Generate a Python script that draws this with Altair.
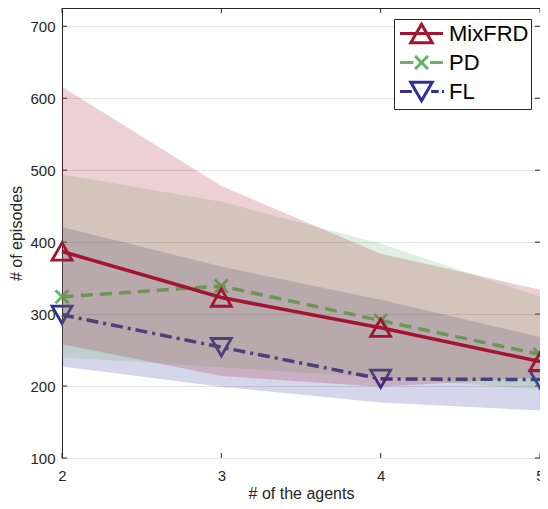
import altair as alt
import pandas as pd

# ---------------- data ----------------
agents = [2, 3, 4, 5]
methods = ["MixFRD", "PD", "FL"]

mix_mean = [387, 323, 281, 234]
mix_hi = [616, 478, 384, 334]
mix_lo = [258, 214, 199, 212]

pd_mean = [324, 339, 291, 244]
pd_hi = [494, 456, 398, 324]
pd_lo = [240, 226, 212, 195]

fl_mean = [299, 254, 210, 209]
fl_hi = [421, 366, 320, 268]
fl_lo = [227, 199, 177, 166]

y_ticks = [100, 200, 300, 400, 500, 600, 700]
x_ticks = [2, 3, 4, 5]

colors = ["#A2142F", "#63B463", "#2E3192"]

# ---------------- style ----------------
W, H = 478, 450
FONT = "Liberation Sans"
INK = "#262626"

xs = alt.Scale(domain=[2, 5], nice=False, zero=False)
ys = alt.Scale(domain=[100, 725.4], nice=False, zero=False)

x_axis = alt.Axis(values=x_ticks, format="d", title="# of the agents", grid=False,
                  ticks=False, tickSize=0, domain=False, labelPadding=10,
                  titleBaseline="alphabetic", titleY=40,
                  labelFlush=False, labelOverlap=False)
y_axis = alt.Axis(values=y_ticks, format="d", title="# of episodes", grid=True,
                  ticks=False, tickSize=0, domain=False, labelPadding=7, titlePadding=5,
                  labelFlush=False, labelOverlap=False, gridColor="#E3E3E3", gridWidth=1)


def frame(mean, lo, hi):
    return pd.DataFrame({"agents": agents, "mean": mean, "lo": lo, "hi": hi})


series = [
    ("FL", frame(fl_mean, fl_lo, fl_hi), colors[2], [12, 5, 3, 5],
     "M-1,-0.87L1,-0.87L0,0.87Z"),
    ("PD", frame(pd_mean, pd_lo, pd_hi), colors[1], [12, 7],
     "M-0.65,-0.65L0.65,0.65M-0.65,0.65L0.65,-0.65"),
    ("MixFRD", frame(mix_mean, mix_lo, mix_hi), colors[0], None,
     "M-1,0.87L1,0.87L0,-0.87Z"),
]

X = alt.X("agents:Q", scale=xs, axis=x_axis)

layers = []

# inward tick marks (MATLAB style box ticks)
ydf = pd.DataFrame({"v": y_ticks})
xdf = pd.DataFrame({"v": x_ticks})
tick = dict(color=INK, strokeWidth=1)
layers.append(alt.Chart(ydf).mark_rule(**tick).encode(
    y=alt.Y("v:Q", scale=ys, axis=y_axis), x=alt.value(0), x2=alt.value(5)))
layers.append(alt.Chart(ydf).mark_rule(**tick).encode(
    y=alt.Y("v:Q", scale=ys, axis=y_axis), x=alt.value(W - 5), x2=alt.value(W)))
layers.append(alt.Chart(xdf).mark_rule(**tick).encode(
    x=alt.X("v:Q", scale=xs, axis=x_axis), y=alt.value(H - 5), y2=alt.value(H)))
layers.append(alt.Chart(xdf).mark_rule(**tick).encode(
    x=alt.X("v:Q", scale=xs, axis=x_axis), y=alt.value(0), y2=alt.value(5)))

for name, df, c, dash, path in series:
    base = alt.Chart(df)
    layers.append(base.mark_area(color=c, opacity=0.2).encode(
        x=X, y=alt.Y("lo:Q", scale=ys, axis=y_axis), y2="hi:Q"))
    line_kw = dict(color=c, strokeWidth=3.5)
    if dash:
        line_kw["strokeDash"] = dash
    layers.append(base.mark_line(**line_kw).encode(
        x=X, y=alt.Y("mean:Q", scale=ys, axis=y_axis)))
    layers.append(base.mark_point(shape=path, size=400, filled=False, color=c,
                                  strokeWidth=2.8, opacity=1).encode(
        x=X, y=alt.Y("mean:Q", scale=ys, axis=y_axis)))

# legend (line + marker symbols)
leg_paths = [
    "M-2,0L2,0M-1,0.87L1,0.87L0,-0.87Z",
    "M-2,0L-0.75,0M0.8,0L2,0M-0.6,-0.6L0.6,0.6M-0.6,0.6L0.6,-0.6",
    "M-2,0L-0.9,0M0.9,0L1.6,0M1.9,0L2.1,0M-1,-0.87L1,-0.87L0,0.87Z",
]
leg = alt.Legend(title=None, orient="none", legendX=332, legendY=11,
                 labelFont=FONT, labelFontSize=22, labelColor="#000",
                 symbolSize=462, symbolStrokeWidth=3, strokeColor=INK,
                 fillColor="white", padding=2, rowPadding=1, symbolOffset=13,
                 labelOffset=15, cornerRadius=0)
leg_df = pd.DataFrame({"method": methods})
layers.append(alt.Chart(leg_df).transform_filter("false").mark_point(
    filled=False, strokeWidth=3, size=462, opacity=1).encode(
    color=alt.Color("method:N", scale=alt.Scale(domain=methods, range=colors), legend=leg),
    shape=alt.Shape("method:N", scale=alt.Scale(domain=methods, range=leg_paths), legend=leg)))

chart = alt.layer(*layers).properties(
    width=W, height=H,
    autosize=alt.AutoSizeParams(type="none"),
    padding={"left": 54, "top": 0, "right": 0, "bottom": 44},
    background="white",
).configure_view(
    stroke=INK, strokeWidth=1
).configure_axis(
    labelFont=FONT, titleFont=FONT, labelFontSize=15, titleFontSize=16,
    labelColor=INK, titleColor=INK, titleFontWeight="normal"
)

chart.save("out.html", embed_options={"renderer": "svg", "actions": False})
